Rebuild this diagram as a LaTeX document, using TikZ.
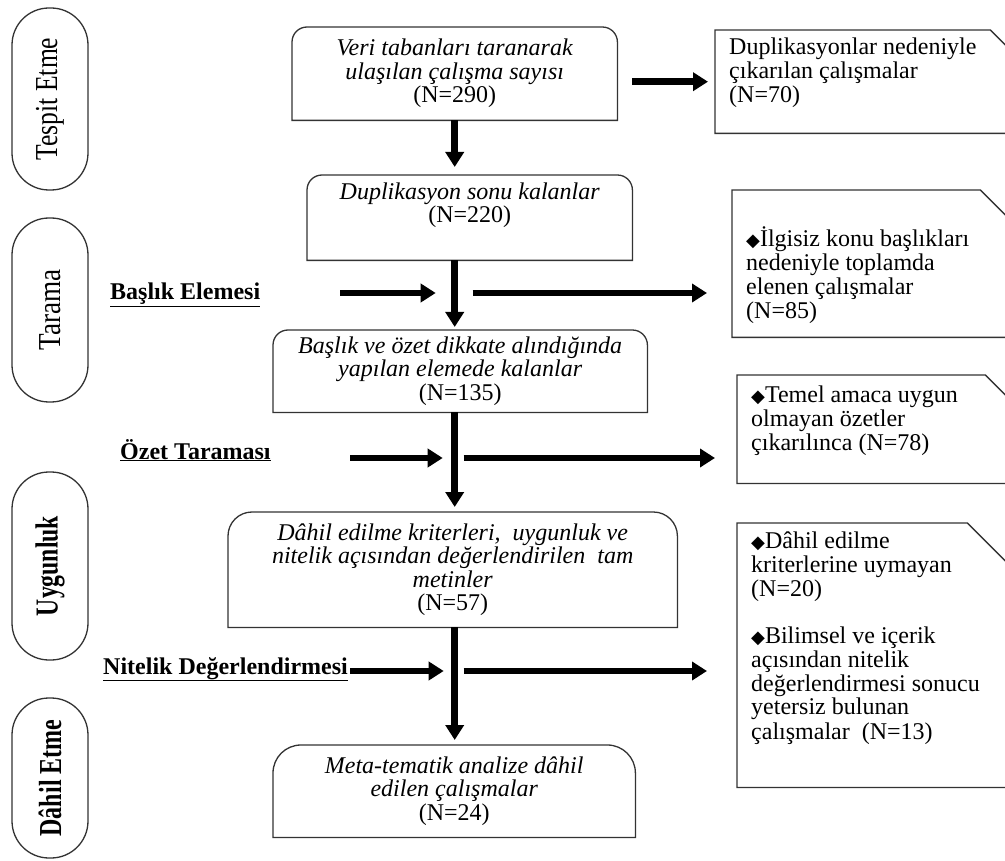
\documentclass[tikz,border=0pt]{standalone}
\usepackage{fontspec}
\setmainfont{Liberation Serif}
\newfontfamily\symfont{DejaVu Sans}
\usepackage{graphicx}
\usetikzlibrary{arrows.meta}

\newcommand{\dia}{{\symfont\fontsize{18}{18}\selectfont ◆}}
\newcommand{\exctext}[3]{\parbox[t][#1][t]{270pt}{\vspace*{#2}\raggedright\strut #3}}

\begin{document}
\begin{tikzpicture}[x=1pt, y=1pt,
    every node/.style={font=\fontsize{24}{24}\selectfont},
    mainbox/.style={anchor=north west, inner sep=0pt, align=center, font=\fontsize{24}{23.5}\selectfont\itshape},
    excbox/.style={anchor=north west, inner xsep=14pt, inner ysep=0pt},
    stage/.style={draw=black!80, line width=1.3pt, rotate=90, minimum height=76pt, rounded corners=37pt, inner sep=0pt, font=\fontsize{32}{32}\selectfont},
    steplabel/.style={anchor=base west, inner sep=0pt, font=\fontsize{24}{24}\selectfont\bfseries},
    boxline/.style={draw=black!80, line width=1.3pt},
    flow/.style={line width=6.5pt, -{Triangle[length=15pt, width=18pt]}}]

    \useasboundingbox (0,0) rectangle (1005,-861);

    % stages on the left
    \node (s1) [stage, minimum width=182pt] at (50,-99) {\scalebox{0.8}[1]{Tespit Etme}};
    \node (s2) [stage, minimum width=184pt] at (50,-310) {\scalebox{0.85}[1]{Tarama}};
    \node (s3) [stage, minimum width=188pt, font=\fontsize{32}{32}\selectfont\bfseries] at (50,-566) {\scalebox{0.74}[1]{Uygunluk}};
    \node (s4) [stage, minimum width=160pt, font=\fontsize{32}{32}\selectfont\bfseries] at (50,-778) {\scalebox{0.75}[1]{Dâhil Etme}};

    % main flow
    \node (b1) [mainbox, minimum width=325pt, minimum height=93pt] at (292,-27) {Veri tabanları taranarak\\ulaşılan çalışma sayısı\\{\upshape (N=290)}};
    \node (b2) [mainbox, minimum width=325pt, minimum height=85pt] at (307,-175) {Duplikasyon sonu kalanlar\\{\upshape (N=220)}\\\strut};
    \node (b3) [mainbox, minimum width=374pt, minimum height=82pt] at (273,-330) {Başlık ve özet dikkate alındığında\\yapılan elemede kalanlar\\{\upshape (N=135)}};
    \node (b4) [mainbox, minimum width=449pt, minimum height=115pt] at (228,-512) {Dâhil edilme kriterleri,~ uygunluk ve\\nitelik açısından değerlendirilen~ tam\\metinler\\{\upshape (N=57)}};
    \node (b5) [mainbox, minimum width=362pt, minimum height=92pt] at (273,-745) {Meta-tematik analize dâhil\\edilen çalışmalar\\{\upshape (N=24)}};

    \foreach \n/\r in {b1/15pt, b2/15pt, b3/15pt, b4/24pt, b5/28pt}
        \draw[boxline] (\n.south west) -- ([yshift=-\r]\n.north west) arc[start angle=180, end angle=90, radius=\r]
            -- ([xshift=-\r]\n.north east) arc[start angle=90, end angle=0, radius=\r] -- (\n.south east) -- cycle;

    % excluded studies
    \node (r1) [excbox] at (715,-30) {\exctext{103pt}{8pt}{Duplikasyonlar nedeniyle\\çıkarılan çalışmalar\\(N=70)}};
    \node (r2) [excbox] at (732,-190) {\exctext{147pt}{36pt}{\dia{}İlgisiz konu başlıkları\\nedeniyle toplamda\\elenen çalışmalar\\(N=85)}};
    \node (r3) [excbox] at (737,-375) {\exctext{108pt}{11pt}{\dia{}Temel amaca uygun\\olmayan özetler\\çıkarılınca (N=78)}};
    \node (r4) [excbox] at (737,-523) {\exctext{264pt}{8pt}{\dia{}Dâhil edilme\\kriterlerine uymayan\\(N=20)\\[23pt]\dia{}Bilimsel ve içerik\\açısından nitelik\\değerlendirmesi sonucu\\yetersiz bulunan\\çalışmalar~ (N=13)}};

    \foreach \n/\c in {r1/23pt, r2/50pt, r3/50pt, r4/68pt}
        \draw[boxline] (\n.north west) -- ([xshift=-\c]\n.north east) -- ([yshift=-\c]\n.north east)
            -- (\n.south east) -- (\n.south west) -- cycle;

    % step labels
    \node (l1) [steplabel] at (110,-300) {\underline{Başlık Elemesi}};
    \node (l2) [steplabel] at (120,-459) {\underline{Özet Taraması}};
    \node (l3) [steplabel] at (103,-674) {\underline{Nitelik Değerlendirmesi}};

    \coordinate (in1) at (340,-293);
    \coordinate (in2) at (350,-458);
    \coordinate (in3) at (350,-671);

    % arrows
    \draw[flow, shorten <=15pt, shorten >=7pt] (b1.east |- r1.west) -- (r1.west);
    \draw[flow, shorten >=8pt] (b1.south) -- (b1.south |- b2.north);
    \draw[flow, shorten >=3pt] (b2.south -| b1.south) -- (b3.north -| b1.south);
    \draw[flow, shorten >=5pt] (b3.south -| b1.south) -- (b4.north -| b1.south);
    \draw[flow, shorten >=5pt] (b4.south -| b1.south) -- (b5.north -| b1.south);

    \draw[flow, shorten >=19pt] (in1) -- (in1 -| b1.south);
    \draw[flow, shorten <=18pt, shorten >=25pt] (in1 -| b1.south) -- (in1 -| r2.west);
    \draw[flow, shorten >=12pt] (in2) -- (in2 -| b1.south);
    \draw[flow, shorten <=9pt, shorten >=22pt] (in2 -| b1.south) -- (in2 -| r3.west);
    \draw[flow, shorten >=11pt] (in3) -- (in3 -| b1.south);
    \draw[flow, shorten <=9pt, shorten >=30pt] (in3 -| b1.south) -- (in3 -| r4.west);

\end{tikzpicture}
\end{document}
